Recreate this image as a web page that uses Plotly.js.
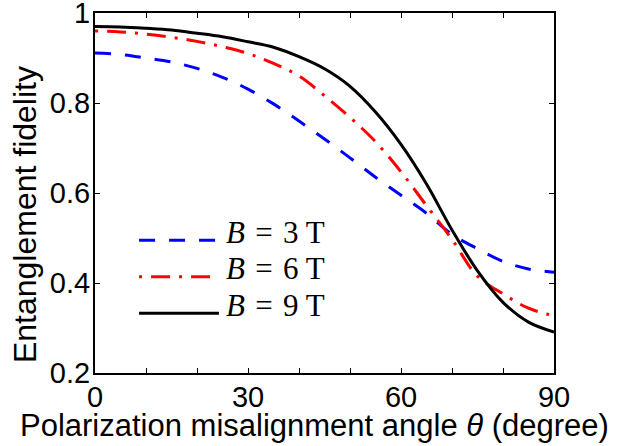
<!DOCTYPE html>
<html>
<head>
<meta charset="utf-8">
<script src="https://cdn.plot.ly/plotly-3.0.1.min.js"></script>
<style>html,body{margin:0;padding:0;background:#fff;}#chart{width:617px;height:446px;}</style>
</head>
<body>
<div id="chart"></div>
<script>
// Polarization misalignment angle (degree)
const theta = [0,5,10,15,20,25,30,35,40,45,50,55,60,65,70,75,80,85,90];
// Entanglement fidelity for each magnetic field
const fidB3 = [0.911,0.908,0.900,0.891,0.877,0.857,0.831,0.798,0.760,0.720,0.678,0.635,0.595,0.555,0.508,0.476,0.448,0.431,0.424];
const fidB6 = [0.960,0.958,0.953,0.946,0.937,0.925,0.910,0.888,0.860,0.816,0.768,0.714,0.647,0.572,0.497,0.415,0.376,0.344,0.327];
const fidB9 = [0.970,0.969,0.966,0.962,0.955,0.947,0.936,0.924,0.903,0.876,0.837,0.780,0.708,0.620,0.518,0.427,0.357,0.313,0.291];
const seriesNames = ['<i>B</i>\u2004=\u20043 T','<i>B</i>\u2004=\u20046 T','<i>B</i>\u2004=\u20049 T'];
const xTickVals = [0,10,20,30,40,50,60,70,80,90];
const xTickText = ['0','','','30','','','60','','','90'];
const yTickVals = [0.2,0.4,0.6,0.8,1];
const yTickText = ['0.2','0.4','0.6','0.8','1'];
const xTitle = 'Polarization misalignment angle <i>θ</i> (degree)';
const yTitle = 'Entanglement fidelity';

const colors = ['#0000ff','#ff0000','#000000'];
const dashes = ['16px,14px','3px,9px,19px,9px','solid'];
const ys = [fidB3, fidB6, fidB9];

const traces = ys.map((y,i)=>({
  x: theta, y: y, type:'scatter', mode:'lines', name: seriesNames[i],
  line:{color:colors[i], width:3, dash:dashes[i], shape:'spline', smoothing:1},
  showlegend:false, hoverinfo:'skip'
}));

// manual legend (paper coordinates)
const legY = [0.369, 0.2675, 0.166];
const shapes = legY.map((yy,i)=>({
  type:'line', xref:'paper', yref:'paper', x0:0.096, x1:0.270, y0:yy, y1:yy,
  line:{color:colors[i], width:3, dash:dashes[i]}
}));
const annotations = legY.map((yy,i)=>({
  xref:'paper', yref:'paper', x:0.282, y:yy+0.022, xanchor:'left', yanchor:'middle',
  text: seriesNames[i], showarrow:false,
  font:{family:'Liberation Serif, Times New Roman, serif', size:31, color:'#000'}
}));
const titleFont = {family:'Liberation Sans, Arial, sans-serif', color:'#000'};
annotations.push({
  xref:'paper', yref:'paper', x:0.479, y:-0.146, xanchor:'center', yanchor:'middle',
  text:xTitle, showarrow:false, font:Object.assign({size:31}, titleFont)
});
annotations.push({
  xref:'paper', yref:'paper', x:-0.1536, y:0.44, xanchor:'center', yanchor:'middle',
  text:yTitle, textangle:-90, showarrow:false, font:Object.assign({size:32}, titleFont)
});

const axisFont = {family:'Liberation Sans, Arial, sans-serif', size:29, color:'#000'};
const layout = {
  width:617, height:446,
  margin:{l:95, r:63, t:13, b:73, pad:0},
  paper_bgcolor:'#fff', plot_bgcolor:'#fff',
  showlegend:false,
  xaxis:{
    range:[0,90], tickmode:'array', tickvals:xTickVals, ticktext:xTickText,
    ticks:'inside', ticklen:5, tickwidth:1, tickcolor:'#000',
    showline:true, linecolor:'#000', linewidth:2, mirror:'ticks',
    showgrid:false, zeroline:false, tickfont:axisFont, ticklabelstandoff:-3,
    ticklabeloverflow:'allow', automargin:false
  },
  yaxis:{
    range:[0.2,1], tickmode:'array', tickvals:yTickVals, ticktext:yTickText,
    ticks:'inside', ticklen:5, tickwidth:1, tickcolor:'#000',
    showline:true, linecolor:'#000', linewidth:2, mirror:'ticks',
    showgrid:false, zeroline:false, tickfont:axisFont, ticklabelstandoff:-3,
    ticklabeloverflow:'allow', automargin:false
  },
  shapes: shapes,
  annotations: annotations
};
Plotly.newPlot('chart', traces, layout, {staticPlot:true, displayModeBar:false});
</script>
</body>
</html>
